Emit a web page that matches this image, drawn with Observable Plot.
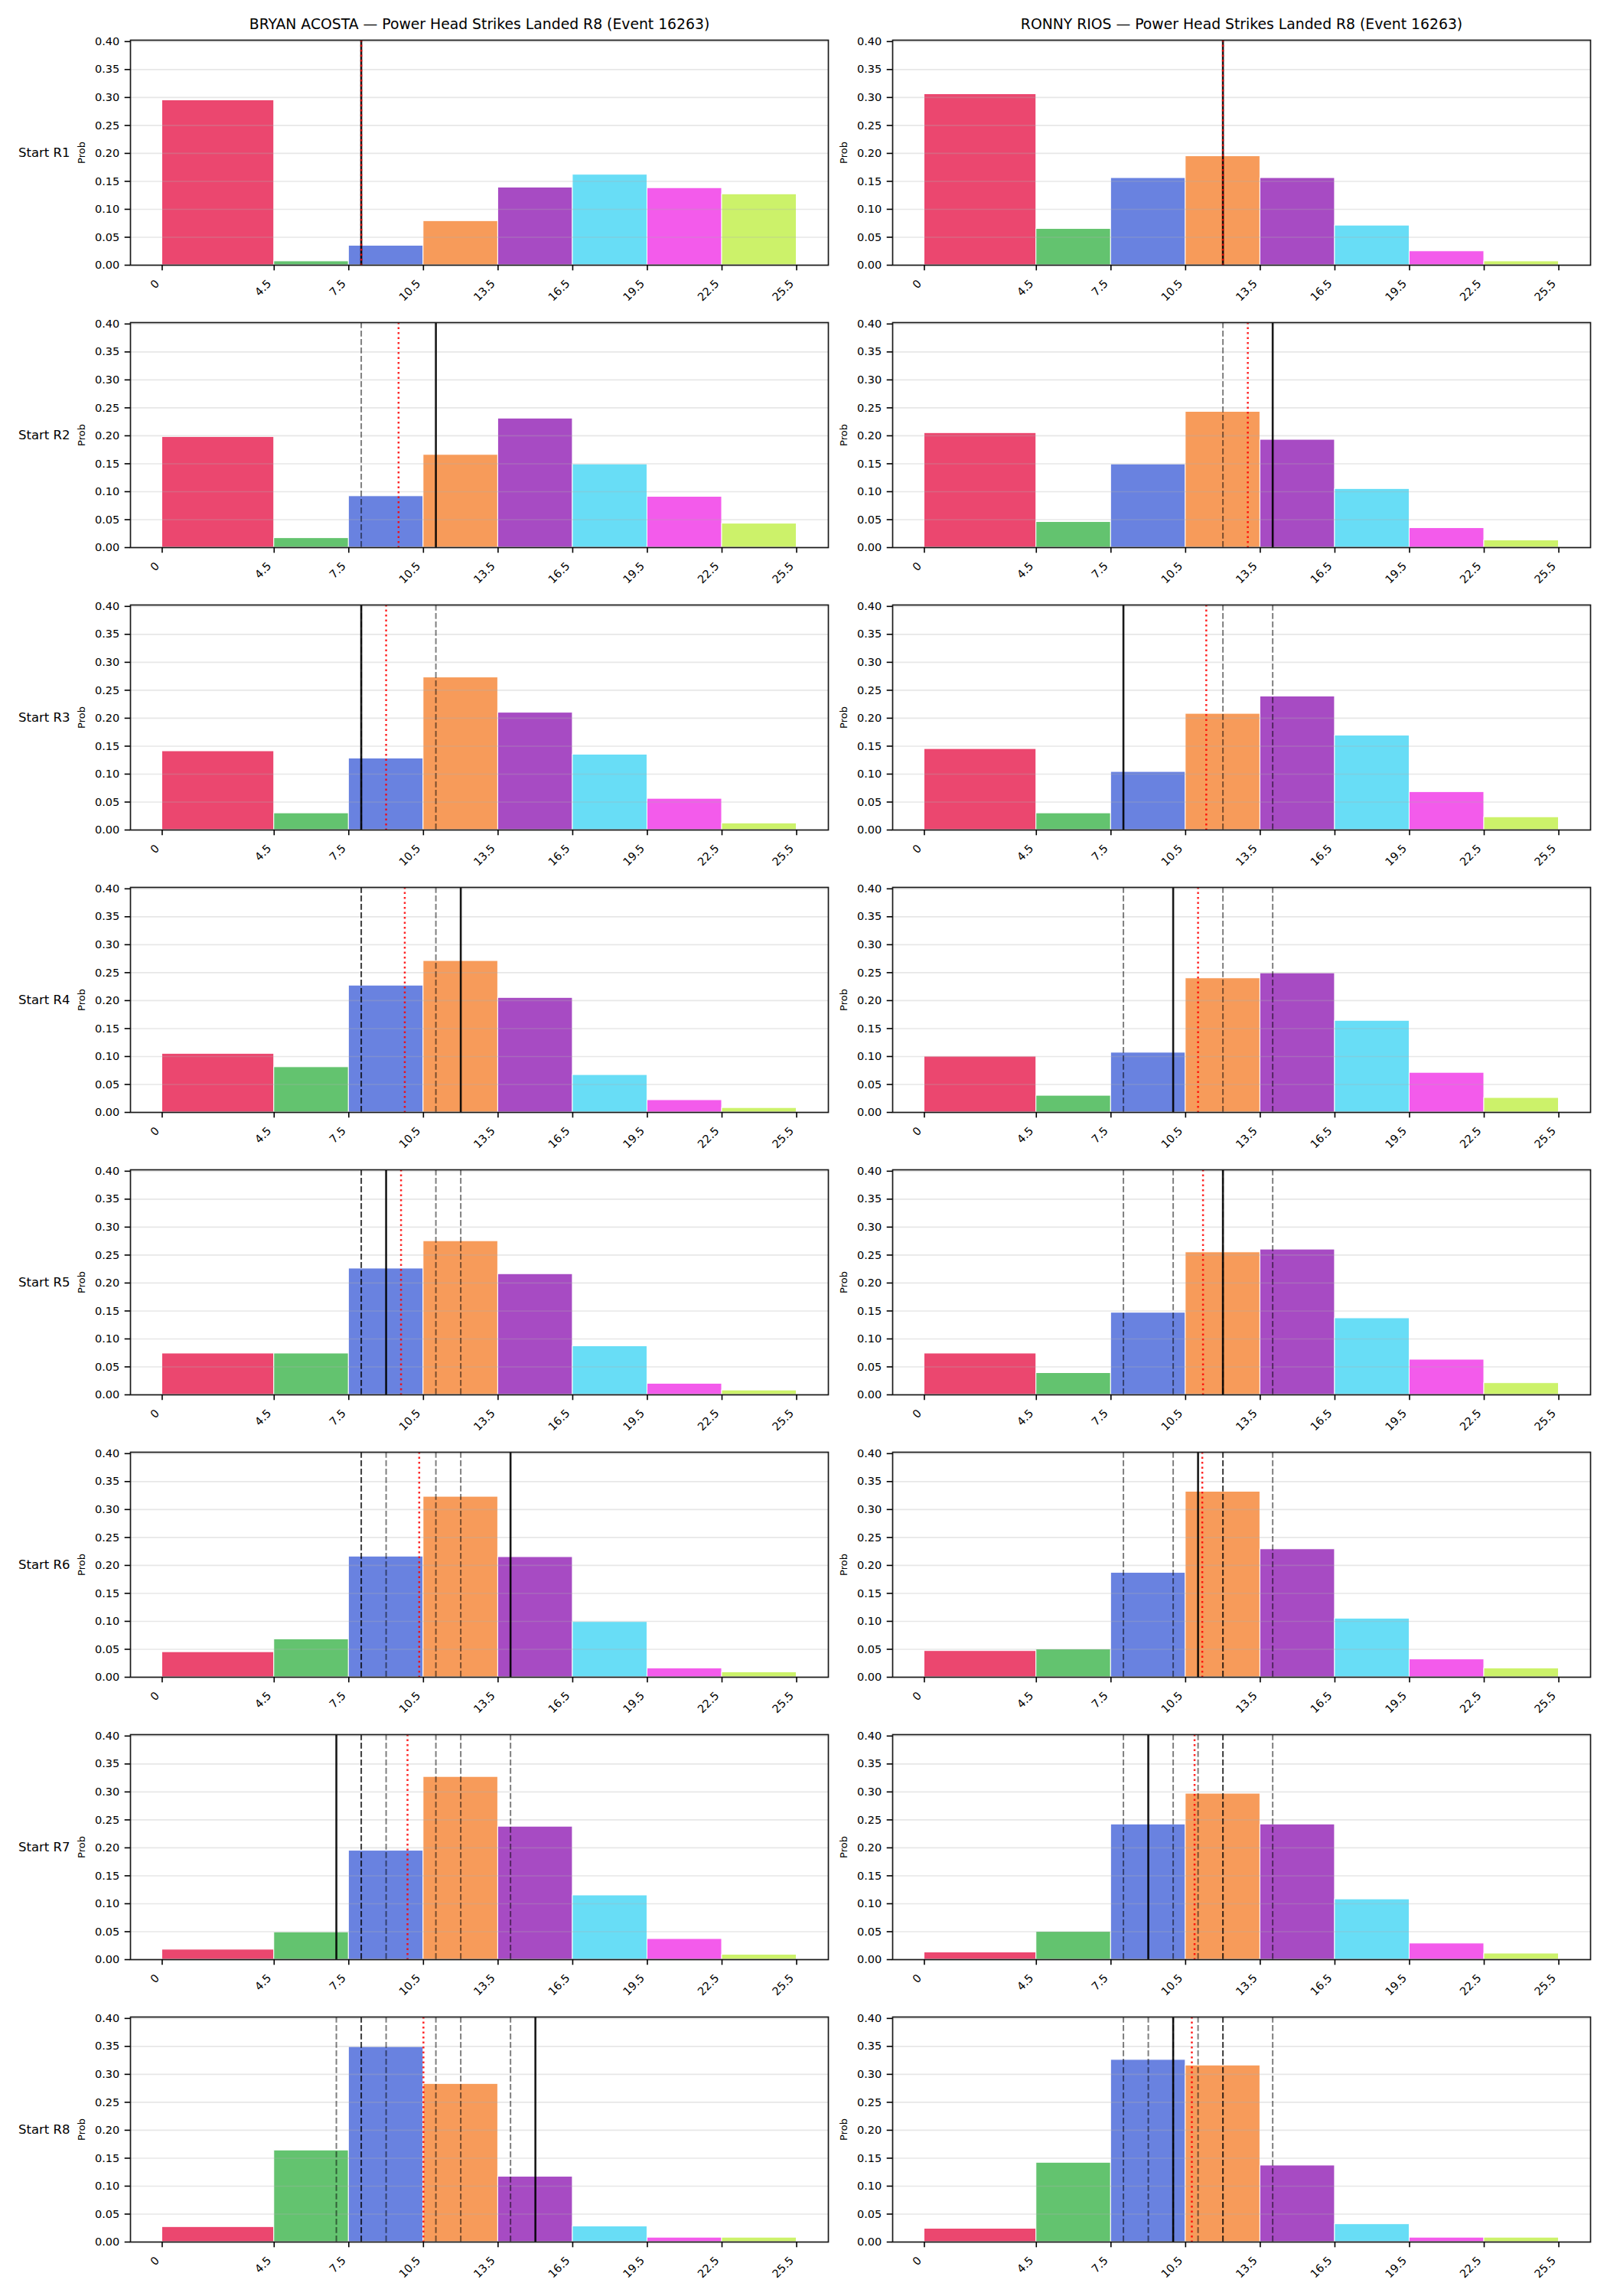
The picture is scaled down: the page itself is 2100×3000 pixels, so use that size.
<!DOCTYPE html>
<html><head><meta charset="utf-8">
<script src="https://cdn.jsdelivr.net/npm/d3@7"></script>
<script src="https://cdn.jsdelivr.net/npm/@observablehq/plot@0.6"></script>
<style>
body{margin:0;background:#fff;}
#fig{position:relative;width:2100px;height:3000px;background:#fff;font-family:"DejaVu Sans",sans-serif;}
#fig svg{position:absolute;overflow:visible;}
</style></head><body><div id="fig"></div>
<script>
// ---- data ----
const binEdges = [0, 4.5, 7.5, 10.5, 13.5, 16.5, 19.5, 22.5, 25.5];
const xTickLabels = ["0", "4.5", "7.5", "10.5", "13.5", "16.5", "19.5", "22.5", "25.5"];
const yTicks = [0, 0.05, 0.10, 0.15, 0.20, 0.25, 0.30, 0.35, 0.40];
const binColors = ["#e6194B", "#3cb44b", "#4363d8", "#f58231", "#911eb4", "#42d4f4", "#f032e6", "#bfef45"];
const rounds = ["R1", "R2", "R3", "R4", "R5", "R6", "R7", "R8"];

const acostaName = "BRYAN ACOSTA";
const riosName = "RONNY RIOS";
const statTitle = "Power Head Strikes Landed R8 (Event 16263)";

const acostaProbs = [
  [0.295, 0.007, 0.035, 0.079, 0.139, 0.162, 0.138, 0.127],
  [0.198, 0.017, 0.092, 0.166, 0.231, 0.149, 0.091, 0.043],
  [0.141, 0.030, 0.128, 0.273, 0.210, 0.135, 0.056, 0.012],
  [0.105, 0.081, 0.227, 0.271, 0.205, 0.067, 0.022, 0.008],
  [0.074, 0.074, 0.226, 0.275, 0.216, 0.087, 0.020, 0.008],
  [0.045, 0.068, 0.216, 0.323, 0.215, 0.099, 0.016, 0.009],
  [0.018, 0.049, 0.195, 0.327, 0.238, 0.115, 0.037, 0.009],
  [0.027, 0.164, 0.349, 0.283, 0.117, 0.028, 0.008, 0.008]
];
const riosProbs = [
  [0.306, 0.065, 0.156, 0.195, 0.156, 0.071, 0.025, 0.007],
  [0.205, 0.046, 0.149, 0.243, 0.193, 0.105, 0.035, 0.013],
  [0.145, 0.030, 0.104, 0.208, 0.239, 0.169, 0.068, 0.023],
  [0.100, 0.030, 0.107, 0.240, 0.249, 0.164, 0.071, 0.026],
  [0.074, 0.039, 0.147, 0.255, 0.260, 0.137, 0.063, 0.021],
  [0.047, 0.050, 0.187, 0.332, 0.229, 0.105, 0.032, 0.016],
  [0.013, 0.050, 0.242, 0.297, 0.242, 0.108, 0.029, 0.011],
  [0.024, 0.142, 0.326, 0.316, 0.137, 0.032, 0.008, 0.008]
];
// current line (solid black), running average (red dotted)
const acostaLine = [8, 11, 8, 12, 9, 14, 7, 15];
const acostaAvg  = [8.0, 9.5, 9.0, 9.75, 9.6, 10.33, 9.86, 10.5];
const riosLine   = [12, 14, 8, 10, 12, 11, 9, 10];
const riosAvg    = [12.0, 13.0, 11.33, 11.0, 11.2, 11.17, 10.86, 10.75];

// ---- layout ----
const FRAME_TOP0 = 52, PITCH = 369, FRAME_H = 294, MT = 20, MB = 55;
const FONT = "DejaVu Sans";
const columns = [
  {name: acostaName, probs: acostaProbs, line: acostaLine, avg: acostaAvg, left: 0, width: 1100, ml: 170, mr: 18, rowLabels: true},
  {name: riosName, probs: riosProbs, line: riosLine, avg: riosAvg, left: 1100, width: 1000, ml: 66, mr: 22, rowLabels: false}
];
const fig = document.getElementById("fig");

for (const col of columns) {
  rounds.forEach((r, i) => {
    const bars = binColors.map((c, j) => ({x1: binEdges[j], x2: binEdges[j + 1], y: col.probs[i][j], color: c}));
    const prev = col.line.slice(0, i);
    const marks = [
      Plot.rectY(bars, {x1: "x1", x2: "x2", y: "y", fill: "color", fillOpacity: 0.8, stroke: "white", strokeWidth: 1}),
      Plot.gridY(yTicks, {stroke: "#b0b0b0", strokeOpacity: 0.3, strokeWidth: 1.6}),
      Plot.ruleX(prev, {stroke: "black", strokeOpacity: 0.5, strokeWidth: 2, strokeDasharray: "7.7,3.3"}),
      Plot.ruleX([col.line[i]], {stroke: "black", strokeOpacity: 0.9, strokeWidth: 2.6}),
      Plot.ruleX([col.avg[i]], {stroke: "red", strokeOpacity: 0.85, strokeWidth: 2.5, strokeDasharray: "2.5,4"}),
      Plot.frame({stroke: "#1a1a1a", strokeWidth: 1.7}),
      Plot.axisY(yTicks, {tickSize: 7.3, tickPadding: 7, tickFormat: d => d.toFixed(2), fontSize: 14.5, label: null, strokeWidth: 1.6}),
      Plot.axisX(binEdges, {tickSize: 7.3, fill: "none", label: null, strokeWidth: 1.6}),
      Plot.text(binEdges, {x: d => d, text: xTickLabels, frameAnchor: "bottom", rotate: -45, textAnchor: "end", lineAnchor: "bottom", dx: -3, dy: 25, fontSize: 14.5, fill: "black"}),
      Plot.text(["Prob"], {frameAnchor: "left", dx: -63.4, rotate: -90, textAnchor: "middle", lineAnchor: "middle", fontSize: 13, fill: "black"})
    ];
    if (i === 0) marks.push(Plot.text([`${col.name} — ${statTitle}`], {frameAnchor: "top", dy: -15, lineAnchor: "bottom", fontSize: 18.8, fill: "black"}));
    if (col.rowLabels) marks.push(Plot.text([`Start ${r}`], {frameAnchor: "left", dx: -79, textAnchor: "end", lineAnchor: "middle", fontSize: 16.5, fill: "black"}));
    const svg = Plot.plot({
      width: col.width,
      height: MT + FRAME_H + MB,
      marginTop: MT, marginBottom: MB, marginLeft: col.ml, marginRight: col.mr,
      x: {domain: [-1.275, 26.775]},
      y: {domain: [0, 0.4025]},
      color: {type: "identity"},
      style: {background: "transparent", overflow: "visible", fontFamily: FONT, color: "black"},
      marks
    });
    svg.style.left = col.left + "px";
    svg.style.top = (FRAME_TOP0 - MT + i * PITCH) + "px";
    fig.appendChild(svg);
  });
}
</script></body></html>
